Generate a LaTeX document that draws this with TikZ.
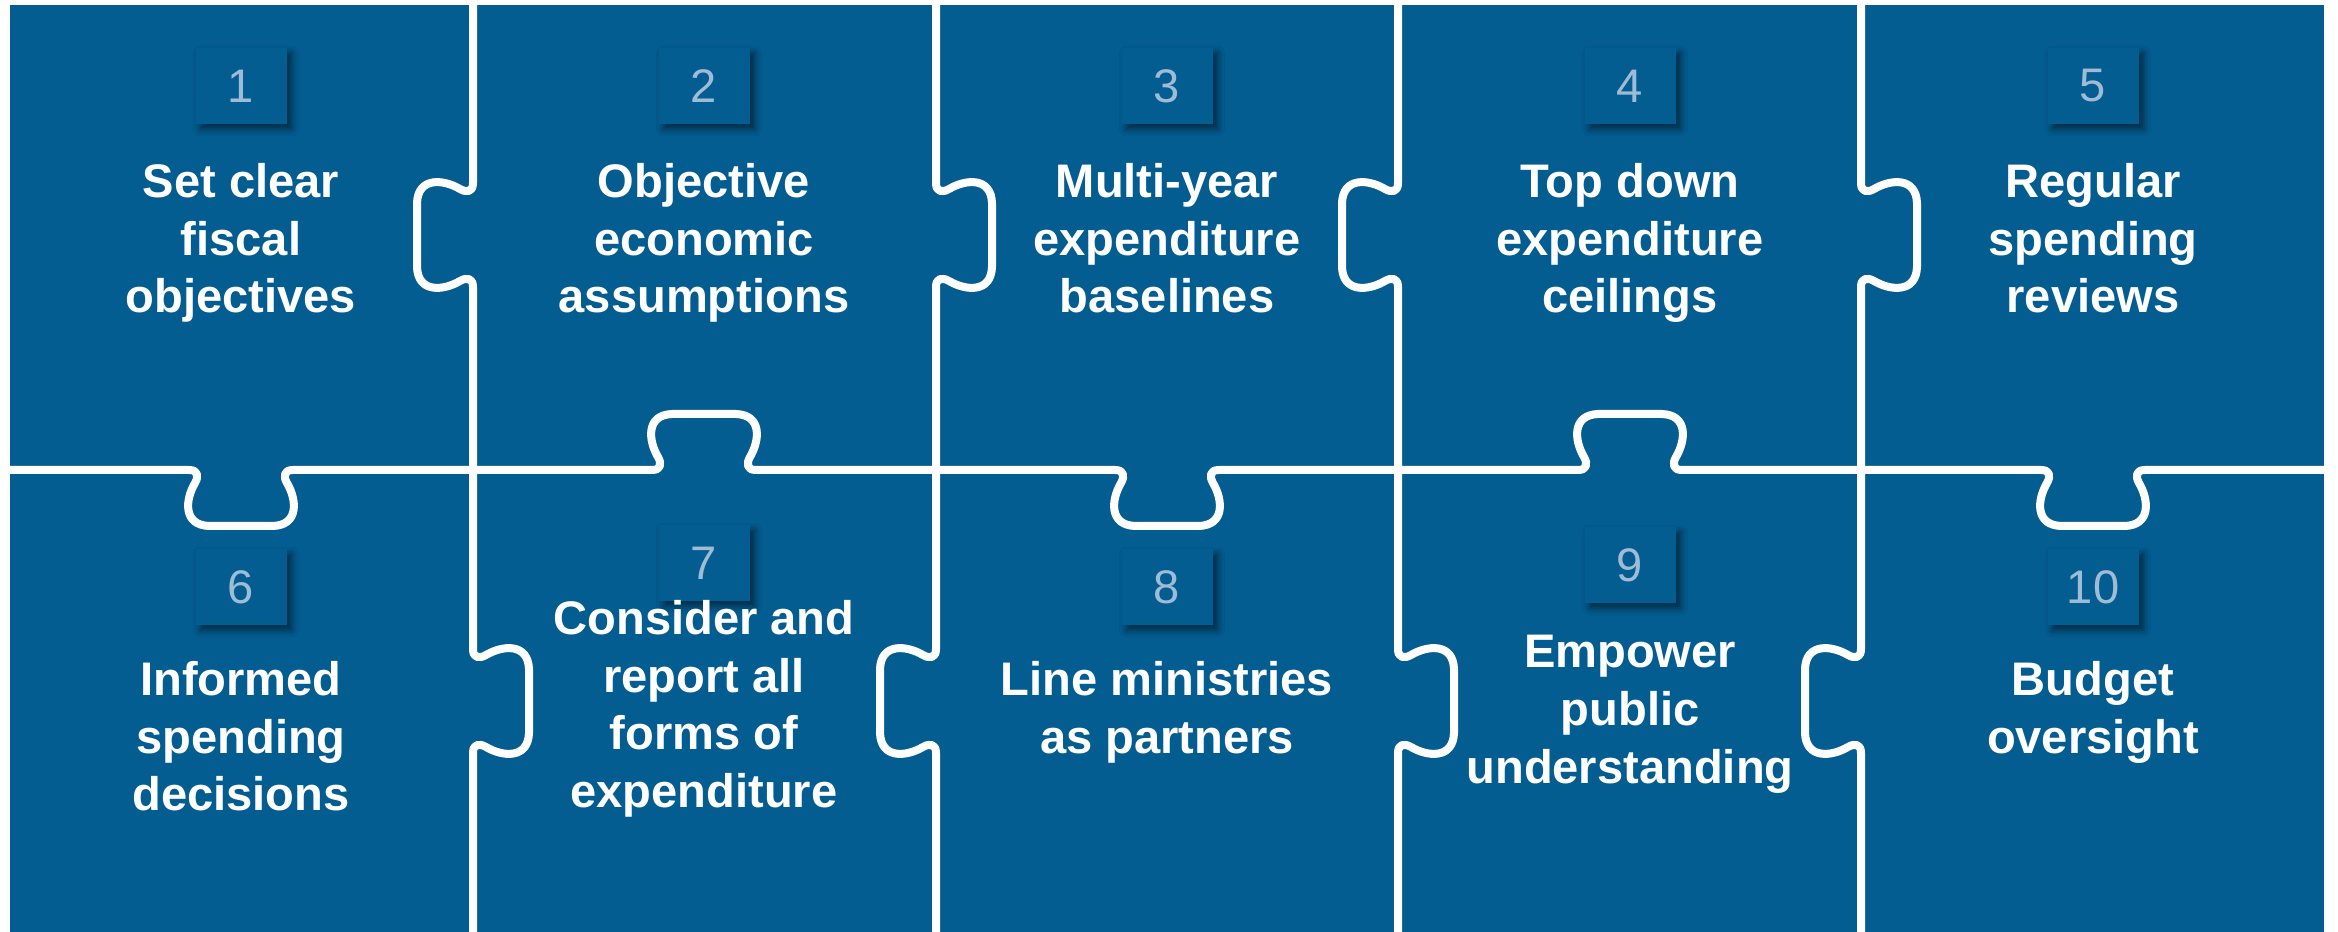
\documentclass[tikz,border=0pt]{standalone}
\usepackage{fontspec}
\setmainfont{Liberation Sans}
\usetikzlibrary{positioning,shadows.blur}
\definecolor{puzzle}{RGB}{4,93,145}
\definecolor{numgrey}{RGB}{158,188,214}
\tikzstyle{seam} = [white, line width=0.8mm, line join=round, line cap=round]
\tikzstyle{numbox} = [rectangle, fill=puzzle, minimum width=9.1mm, minimum height=7.6mm, text=numgrey, font=\fontsize{13.4}{16}\selectfont, blur shadow={shadow xshift=0.5mm, shadow yshift=-0.5mm, shadow blur radius=0.7mm, shadow opacity=55}]
\tikzstyle{idea} = [text=white, align=center, inner sep=0pt, font=\bfseries\fontsize{13.4}{16.4}\selectfont]
% knob on a row seam: seam y, centre x, side (1 down, -1 up)
\newcommand\hk[3]{-- ({#2-52},#1) .. controls ({#2-43},#1) and ({#2-42},{#1+6*(#3)}) .. ({#2-46},{#1+13*(#3)}) .. controls ({#2-56},{#1+30*(#3)}) and ({#2-58},{#1+55*(#3)}) .. ({#2-32},{#1+56*(#3)}) -- ({#2+32},{#1+56*(#3)}) .. controls ({#2+58},{#1+55*(#3)}) and ({#2+56},{#1+30*(#3)}) .. ({#2+46},{#1+13*(#3)}) .. controls ({#2+42},{#1+6*(#3)}) and ({#2+43},#1) .. ({#2+52},#1)}
% knob on a column seam: seam x, centre y, side (1 right, -1 left)
\newcommand\vk[3]{-- (#1,{#2-52}) .. controls (#1,{#2-43}) and ({#1+6*(#3)},{#2-42}) .. ({#1+13*(#3)},{#2-46}) .. controls ({#1+30*(#3)},{#2-56}) and ({#1+55*(#3)},{#2-58}) .. ({#1+56*(#3)},{#2-32}) -- ({#1+56*(#3)},{#2+32}) .. controls ({#1+55*(#3)},{#2+58}) and ({#1+30*(#3)},{#2+56}) .. ({#1+13*(#3)},{#2+46}) .. controls ({#1+6*(#3)},{#2+42}) and (#1,{#2+43}) .. (#1,{#2+52})}

\begin{document}
\begin{tikzpicture}[x=0.1mm, y=-0.1mm]
   \useasboundingbox (0,0) rectangle (2338,932);
   \fill[puzzle] (10,5) rectangle (2324,932);
   % seams between the pieces
   \draw[seam] (0,470) \hk{470}{241}{1} \hk{470}{704}{-1} \hk{470}{1167}{1} \hk{470}{1630}{-1} \hk{470}{2093}{1} -- (2338,470);
   \foreach \sx/\ta/\tb in {473/-1/1, 936/1/-1, 1398/-1/1, 1861/1/-1}
      \draw[seam] (\sx,0) \vk{\sx}{235}{\ta} \vk{\sx}{701}{\tb} -- (\sx,932);
   % numbers
   \node (num1) [numbox] at (241,86) {1};
   \node (num2) [numbox] at (704,86) {2};
   \node (num3) [numbox] at (1167,86) {3};
   \node (num4) [numbox] at (1630,86) {4};
   \node (num5) [numbox] at (2093,86) {5};
   \node (num6) [numbox] at (241,587) {6};
   \node (num7) [numbox] at (704,563) {7};
   \node (num8) [numbox] at (1167,587) {8};
   \node (num9) [numbox] at (1630,565) {9};
   \node (num10) [numbox] at (2093,587) {10};
   % practices
   \node (txt1) [idea, below=3.8mm of num1] {Set clear\\fiscal\\objectives};
   \node (txt2) [idea, below=3.8mm of num2] {Objective\\economic\\assumptions};
   \node (txt3) [idea, below=3.8mm of num3] {Multi-year\\expenditure\\baselines};
   \node (txt4) [idea, below=3.8mm of num4] {Top down\\expenditure\\ceilings};
   \node (txt5) [idea, below=3.8mm of num5] {Regular\\spending\\reviews};
   \node (txt6) [idea, below=3.5mm of num6] {Informed\\spending\\decisions};
   \node (txt7) [idea, below=-0.2mm of num7] {Consider and\\report all\\forms of\\expenditure};
   \node (txt8) [idea, below=3.5mm of num8] {Line ministries\\as partners};
   \node (txt9) [idea, below=3.1mm of num9] {Empower\\public\\understanding};
   \node (txt10) [idea, below=3.5mm of num10] {Budget\\oversight};
\end{tikzpicture}
\end{document}
